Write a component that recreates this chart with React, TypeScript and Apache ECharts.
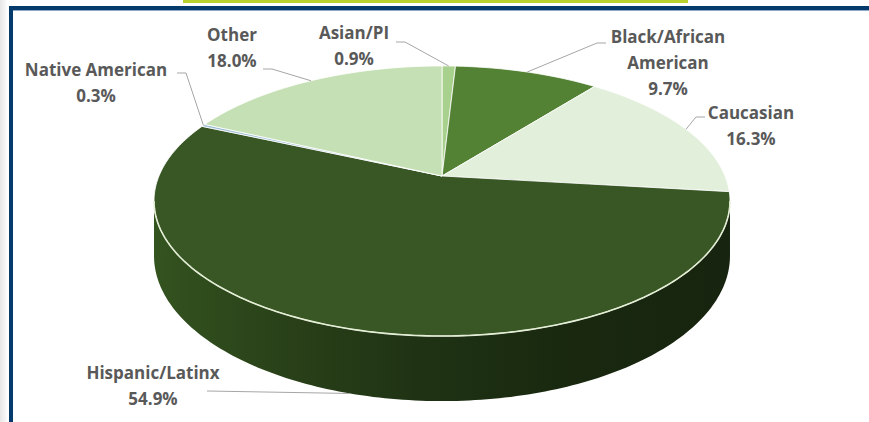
import React, { useEffect, useRef } from 'react';
import * as echarts from 'echarts';

// ---- data ----
const CATEGORIES = ['Asian/PI', 'Black/African American', 'Caucasian', 'Hispanic/Latinx', 'Native American', 'Other'];
const VALUES = [0.9, 9.7, 16.3, 54.9, 0.3, 18.0];

// ---- styling / layout (not data) ----
const COLORS = ['#a9d18e', '#548235', '#e2efda', '#385724', '#9fbfd8', '#c5e0b4'];
const LABEL_CENTER = [[354, 45], [668, 62], [751, 125], [153, 385], [96, 82], [232, 47]];
const LABEL_ATTACH = [[396, 42], [606, 43], [705, 117], [207, 391], [177, 73], [263, 69]];

const CX = 442, CY = 176, R = 283, K = 130.4, D = 5.4, H = 53;
const TOTAL = VALUES.reduce((s, v) => s + v, 0);
const STARTS = VALUES.map((_, i) => VALUES.slice(0, i).reduce((s, v) => s + v, 0));
const T1 = Math.acos(-1 / D);
const T2 = 2 * Math.PI - T1;

function proj(phi: number, drop = 0): number[] {
  const u = Math.sin(phi), v = Math.cos(phi);
  const s = D / (D + v);
  return [CX + R * u * s, CY - K * v * s + drop * s];
}
function arc(a: number, b: number, drop = 0): number[][] {
  const n = Math.max(2, Math.ceil((b - a) / (Math.PI / 180)));
  const pts: number[][] = [];
  for (let k = 0; k <= n; k++) pts.push(proj(a + ((b - a) * k) / n, drop));
  return pts;
}
function wrap(name: string): string {
  if (name.length <= 16) return name;
  const i = name.lastIndexOf(' ');
  return name.slice(0, i) + '\n' + name.slice(i + 1);
}

export default function App() {
  const ref = useRef<HTMLDivElement>(null);
  useEffect(() => {
    const chart = echarts.init(ref.current!, undefined, { renderer: 'svg' });
    const wallFill = {
      type: 'linear', x: 155, y: 0, x2: 730, y2: 0, global: true,
      colorStops: [
        { offset: 0, color: '#33531f' },
        { offset: 0.25, color: '#283f18' },
        { offset: 0.46, color: '#1f3314' },
        { offset: 0.7, color: '#19290f' },
        { offset: 1, color: '#17240f' },
      ],
    };
    chart.setOption({
      animation: false,
      backgroundColor: '#ffffff',
      graphic: [
        { type: 'rect', shape: { x: 0, y: 0, width: 7, height: 422 }, style: { fill: { type: 'linear', x: 0, y: 0, x2: 1, y2: 0, colorStops: [{ offset: 0, color: '#e6e6e6' }, { offset: 1, color: '#fbfbfb' }] } }, silent: true },
        { type: 'rect', shape: { x: 183, y: 0, width: 505, height: 3 }, style: { fill: '#b9d12e' }, silent: true },
        { type: 'rect', shape: { x: 9, y: 6, width: 860, height: 4 }, style: { fill: '#053a6d' }, silent: true },
        { type: 'rect', shape: { x: 13, y: 10, width: 856, height: 1 }, style: { fill: '#8fa9c6' }, silent: true },
        { type: 'rect', shape: { x: 9, y: 6, width: 4, height: 416 }, style: { fill: '#053a6d' }, silent: true },
      ],
      series: [
        {
          type: 'custom',
          coordinateSystem: 'none',
          data: VALUES.map((v, i) => ({ name: CATEGORIES[i], value: v })),
          renderItem: (params: any, api: any) => {
            const i = params.dataIndex;
            const val = api.value(0);
            const a = (STARTS[i] / TOTAL) * 2 * Math.PI;
            const b = ((STARTS[i] + val) / TOTAL) * 2 * Math.PI;
            const children: any[] = [];
            const lo = Math.max(a, T1), hi = Math.min(b, T2);
            if (hi > lo) {
              const top = arc(lo, hi, 0);
              const bot = arc(lo, hi, H).reverse();
              children.push({ type: 'polygon', shape: { points: top.concat(bot) }, style: { fill: wallFill } });
            }
            const face = [[CX, CY]].concat(arc(a, b, 0));
            children.push({ type: 'polygon', shape: { points: face }, style: { fill: COLORS[i], stroke: '#ffffff', lineWidth: 0.8, lineJoin: 'round' } });
            if (hi > lo) {
              children.push({ type: 'polyline', shape: { points: arc(lo, hi, 0) }, style: { stroke: '#e4eed6', lineWidth: 1.6, fill: null } });
            }
            const m = (a + b) / 2;
            const anchor = m > T1 && m < T2 ? proj(m, H) : proj(m, 0);
            const att = LABEL_ATTACH[i];
            const dir = anchor[0] > att[0] ? 1 : -1;
            const pts = Math.abs(anchor[1] - att[1]) > 6 ? [att, [att[0] + dir * 9, att[1]], anchor] : [att, anchor];
            children.push({ type: 'polyline', shape: { points: pts }, style: { stroke: '#a6a6a6', lineWidth: 1, fill: null } });
            const c = LABEL_CENTER[i];
            children.push({
              type: 'text', x: c[0], y: c[1],
              style: {
                text: wrap(CATEGORIES[i]) + '\n' + val.toFixed(1) + '%',
                fill: '#595959', fontFamily: 'Open Sans', fontWeight: 'bold', fontSize: 17, lineHeight: 26,
                align: 'center', verticalAlign: 'middle',
              },
            });
            return { type: 'group', children };
          },
        },
      ],
    });
    return () => chart.dispose();
  }, []);
  return <div ref={ref} style={{ position: 'absolute', left: 0, top: 0, width: 869, height: 422 }} />;
}
